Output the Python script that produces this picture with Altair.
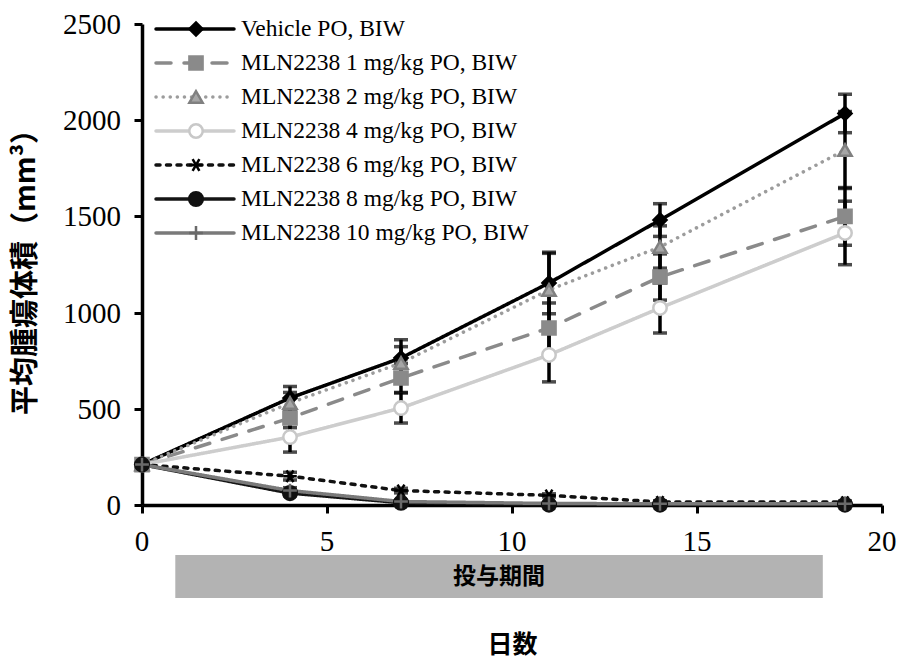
import altair as alt
import pandas as pd

# Measurement days and mean tumour volume (mm^3) per treatment group
days = [0, 4, 7, 11, 14, 19]

series_names = [
    "Vehicle  PO, BIW",
    "MLN2238 1 mg/kg PO, BIW",
    "MLN2238 2 mg/kg PO, BIW",
    "MLN2238 4 mg/kg PO, BIW",
    "MLN2238 6 mg/kg PO, BIW",
    "MLN2238 8 mg/kg PO, BIW",
    "MLN2238 10 mg/kg PO, BIW",
]

vehicle = [210, 556, 764, 1154, 1481, 2035]
mln_1 = [210, 452, 660, 920, 1185, 1500]
mln_2 = [210, 530, 738, 1118, 1341, 1845]
mln_4 = [210, 353, 504, 780, 1024, 1414]
mln_6 = [210, 150, 75, 50, 16, 15]
mln_8 = [210, 62, 12, 2, 2, 2]
mln_10 = [210, 75, 18, 8, 6, 6]

# Standard error of each mean
vehicle_err = [0, 60, 95, 160, 85, 100]
mln_1_err = [0, 50, 75, 130, 120, 150]
mln_2_err = [0, 55, 85, 190, 110, 200]
mln_4_err = [0, 78, 78, 140, 130, 165]
mln_6_err = [0, 20, 12, 8, 6, 6]
mln_8_err = [0, 15, 5, 3, 3, 3]
mln_10_err = [0, 15, 8, 5, 4, 4]

# Axis tick values
x_ticks = [0, 5, 10, 15, 20]
y_ticks = [0, 500, 1000, 1500, 2000, 2500]

# Dosing period shown under the x axis
dosing_start = 0.9
dosing_end = 18.4
dosing_label = "投与期間"

TIMES = "'Liberation Serif'"
CJK = "Noto Sans CJK JP"

values = [vehicle, mln_1, mln_2, mln_4, mln_6, mln_8, mln_10]
errors = [vehicle_err, mln_1_err, mln_2_err, mln_4_err, mln_6_err, mln_8_err, mln_10_err]

rows = []
for name, vals, errs in zip(series_names, values, errors):
    for d, v, e in zip(days, vals, errs):
        rows.append({"series": name, "day": d, "vol": v, "err": e,
                     "lo": v - e, "hi": v + e})
df = pd.DataFrame(rows)
legend_df = pd.DataFrame({"series": series_names, "idx": list(range(len(series_names)))})

# Per-group styling
line_colors = ["#000000", "#8a8a8a", "#9c9c9c", "#cdcdcd", "#111111", "#151515", "#7a7a7a"]
line_dashes = [[1, 0], [15, 13], [0.1, 7], [1, 0], [4, 6.5], [1, 0], [1, 0]]
line_widths = [3.5, 3.5, 4.5, 3, 3, 4, 3.5]
asterisk = "M-1,0L1,0M-0.5,-0.866L0.5,0.866M-0.5,0.866L0.5,-0.866"
plus = "M-1,0L1,0M0,-1L0,1"
marker_shapes = ["diamond", "square", "triangle-up", "circle", asterisk, "circle", plus]
marker_fills = ["#000000", "#8a8a8a", "#a6a6a6", "#ffffff", "transparent", "#111111", "transparent"]
marker_strokes = ["#000000", "#8a8a8a", "#808080", "#c8c8c8", "#000000", "#111111", "#6a6a6a"]
marker_sizes = [170, 190, 170, 150, 150, 210, 160]

dom = series_names
color_enc = alt.Color("series:N", scale=alt.Scale(domain=dom, range=line_colors), legend=None)
dash_enc = alt.StrokeDash("series:N", scale=alt.Scale(domain=dom, range=line_dashes), legend=None)
width_enc = alt.StrokeWidth("series:N", scale=alt.Scale(domain=dom, range=line_widths), legend=None)
shape_enc = alt.Shape("series:N", scale=alt.Scale(domain=dom, range=marker_shapes), legend=None)
fill_enc = alt.Fill("series:N", scale=alt.Scale(domain=dom, range=marker_fills), legend=None)
stroke_enc = alt.Stroke("series:N", scale=alt.Scale(domain=dom, range=marker_strokes), legend=None)
size_enc = alt.Size("series:N", scale=alt.Scale(domain=dom, range=marker_sizes), legend=None)

# Axes: lines, ticks and titles; numbers are set as serif text marks below
x_enc = alt.X(
    "day:Q",
    scale=alt.Scale(domain=[0, 20], nice=False),
    axis=alt.Axis(values=x_ticks, labels=False, title="日数", grid=False,
                  titlePadding=118, titleFont=CJK, titleFontSize=25),
)
y_enc = alt.Y(
    "vol:Q",
    scale=alt.Scale(domain=[0, 2500], nice=False),
    axis=alt.Axis(values=y_ticks, labels=False, title="平均腫瘍体積（mm³）", grid=False,
                  titlePadding=92, titleFont=CJK, titleFontSize=29),
)

base = alt.Chart(df)

err_rules = base.transform_filter("datum.err > 0").mark_rule(
    color="#000000", strokeWidth=3.5
).encode(x="day:Q", y="lo:Q", y2="hi:Q")

cap_lo = base.transform_filter("datum.err > 0").mark_tick(
    orient="horizontal", color="#000000", size=14, thickness=3.5
).encode(x="day:Q", y="lo:Q")

cap_hi = base.transform_filter("datum.err > 0").mark_tick(
    orient="horizontal", color="#000000", size=14, thickness=3.5
).encode(x="day:Q", y="hi:Q")

lines = base.mark_line(strokeCap="round").encode(
    x=x_enc, y=y_enc, color=color_enc, strokeDash=dash_enc, strokeWidth=width_enc,
    detail="series:N",
)

points = base.mark_point(filled=True, strokeWidth=2.5, opacity=1).encode(
    x="day:Q", y="vol:Q", shape=shape_enc, fill=fill_enc, stroke=stroke_enc, size=size_enc,
)

# Tick numbers in a Times-style face, positioned through the same scales
x_lab = alt.Chart(pd.DataFrame({"day": x_ticks})).mark_text(
    font=TIMES, fontSize=29, color="#000000", align="center", baseline="alphabetic"
).encode(x="day:Q", y=alt.value(527), text=alt.Text("day:Q", format="d"))

y_lab = alt.Chart(pd.DataFrame({"vol": y_ticks})).mark_text(
    font=TIMES, fontSize=29, color="#000000", align="right", baseline="middle", dy=1
).encode(x=alt.value(-21), y="vol:Q", text=alt.Text("vol:Q", format="d"))

# Legend drawn inside the plot, top left
leg = alt.Chart(legend_df).transform_calculate(ly="5 + 34 * datum.idx")
leg_y = alt.Y("ly:Q", scale=None, axis=None)

leg_lines = leg.mark_rule(strokeCap="round").encode(
    x=alt.value(14), x2=alt.value(92), y=leg_y,
    color=color_enc, strokeDash=dash_enc, strokeWidth=width_enc,
)
leg_points = leg.mark_point(filled=True, strokeWidth=2.5, opacity=1).encode(
    x=alt.value(54), y=leg_y, shape=shape_enc, fill=fill_enc, stroke=stroke_enc, size=size_enc,
)
leg_text = leg.mark_text(
    align="left", baseline="middle", font=TIMES, fontSize=23.5, color="#000000"
).encode(x=alt.value(99), y=leg_y, text="series:N")

# Dosing period band
band_df = pd.DataFrame({"start": [dosing_start], "end": [dosing_end],
                        "mid": [(dosing_start + dosing_end) / 2], "label": [dosing_label]})
band = alt.Chart(band_df).mark_rect(color="#b3b3b3").encode(
    x="start:Q", x2="end:Q", y=alt.value(531), y2=alt.value(574),
)
band_text = alt.Chart(band_df).mark_text(
    font=CJK, fontWeight="bold", fontSize=23, color="#000000",
    baseline="middle", align="center",
).encode(x="mid:Q", y=alt.value(553), text="label:N")

chart = alt.layer(
    band, band_text, err_rules, cap_lo, cap_hi, lines, points, x_lab, y_lab,
    leg_lines, leg_points, leg_text
).properties(
    width=740, height=481,
    autosize=alt.AutoSizeParams(type="none"),
    padding={"left": 142, "top": 24, "right": 17, "bottom": 155},
    background="#ffffff",
).configure_view(
    stroke=None
).configure_axis(
    domainColor="#000000", domainWidth=3.5, tickColor="#000000", tickWidth=3,
    tickSize=8, titleFontWeight="bold", titleColor="#000000",
)

chart.save("out.html", embed_options={"renderer": "svg", "actions": False})
